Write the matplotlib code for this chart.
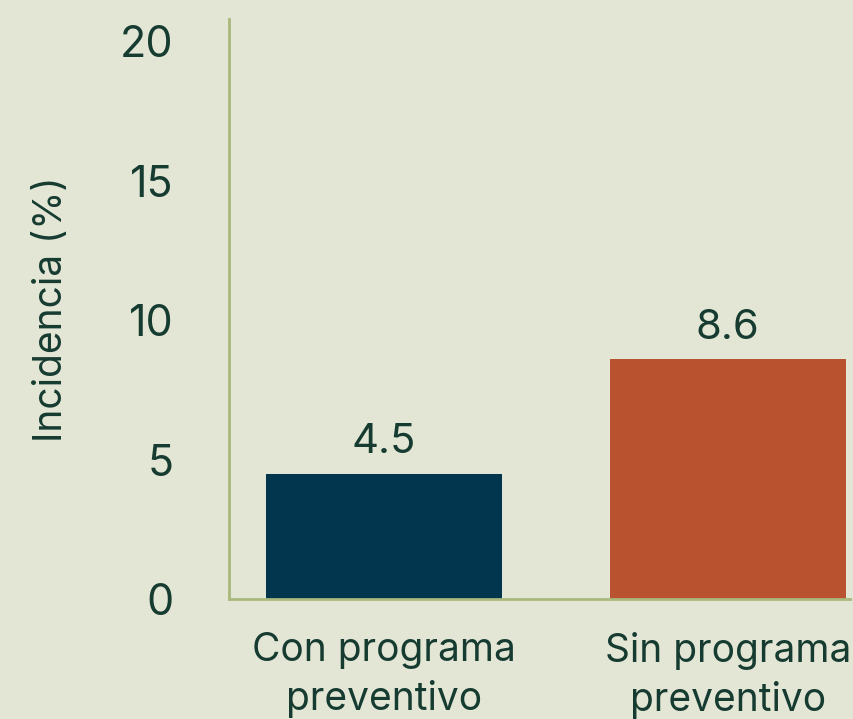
import matplotlib
matplotlib.use("Agg")
import matplotlib.pyplot as plt

categories = ["Con programa\npreventivo", "Sin programa\npreventivo"]
values = [4.5, 8.6]
value_labels = ["4.5", "8.6"]
yticks = [0, 5, 10, 15, 20]

bg = "#E3E6D4"
spine_c = "#A9B97C"
text_c = "#163B31"
bar_colors = ["#02364E", "#B9522E"]

plt.rcParams['font.family'] = ['Inter', 'DejaVu Sans']

W, H = 854, 719
fig = plt.figure(figsize=(W/100, H/100), dpi=100, facecolor=bg)
ax = fig.add_axes([229/W, (H-599)/H, 621/W, 580/H], facecolor=bg)

x = list(range(len(categories)))
bars = ax.bar(x, values, width=0.686, color=bar_colors)
ax.set_xlim(-0.45, 1.355)
ax.set_ylim(0, 20.8)

for xi, v, lab in zip(x, values, value_labels):
    ax.annotate(lab, (xi, v), xytext=(0, 9), textcoords="offset points",
                ha="center", va="bottom", fontsize=30, color=text_c, fontweight='normal')

ax.set_yticks(yticks)
ax.set_yticklabels([str(t) for t in yticks], fontsize=31, color=text_c, fontweight='normal')
ax.set_xticks(x)
ax.set_xticklabels(categories, fontsize=28, color=text_c, linespacing=1.35, fontweight='normal')
ax.tick_params(axis='y', length=0, pad=40)
ax.tick_params(axis='x', length=0, pad=24)
ax.set_ylabel("Incidencia (%)", fontsize=28, color=text_c, labelpad=36, fontweight='normal')

for s in ["top", "right"]:
    ax.spines[s].set_visible(False)
for s in ["left", "bottom"]:
    ax.spines[s].set_color(spine_c)
    ax.spines[s].set_linewidth(2)

fig.savefig("out.png", dpi=100, facecolor=bg)
